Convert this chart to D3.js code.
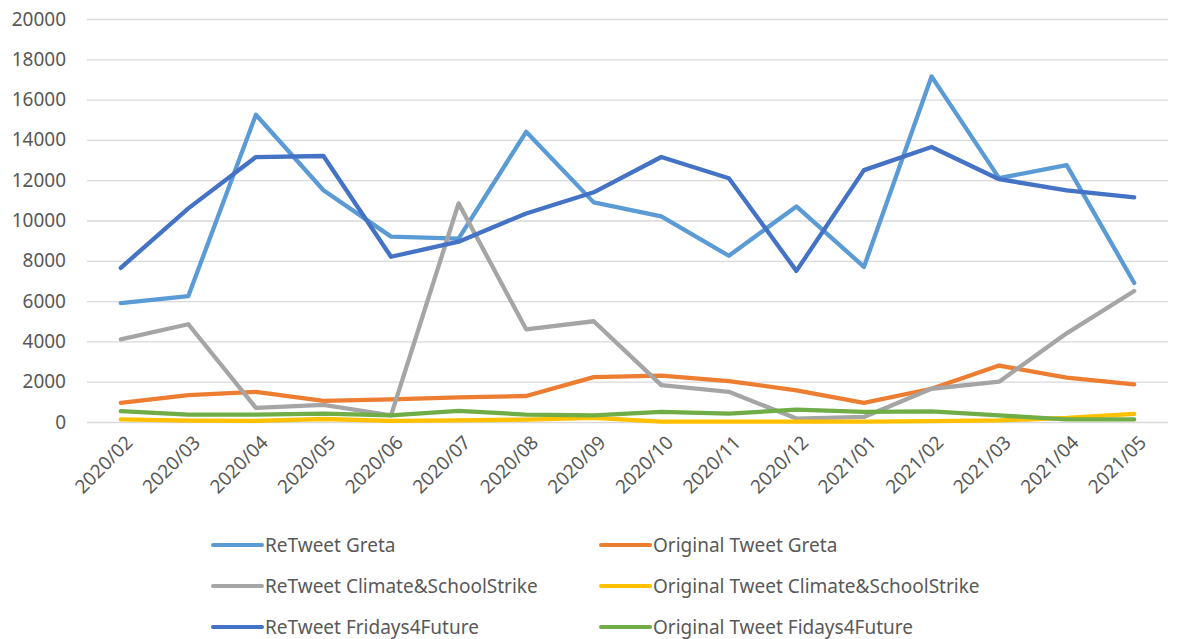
<!DOCTYPE html>
<html lang="en">
  <head>
    <meta charset="utf-8" />
    <title>Tweets per month</title>
    <script src="https://d3js.org/d3.v7.min.js"></script>
    <style>
      body { margin: 0; background: #fff; }
      text { font-family: "Noto Sans", "Open Sans", sans-serif; fill: #595959; }
    </style>
  </head>
  <body>
    <div id="chart"></div>
    <script>
      // Months (x categories)
      const months = [
        "2020/02", "2020/03", "2020/04", "2020/05", "2020/06", "2020/07", "2020/08", "2020/09",
        "2020/10", "2020/11", "2020/12", "2021/01", "2021/02", "2021/03", "2021/04", "2021/05"
      ];

      // Series values
      const retweetGreta = [5900, 6250, 15250, 11500, 9200, 9100, 14400, 10900, 10200, 8250, 10700, 7700, 17150, 12100, 12750, 6900];
      const originalGreta = [950, 1330, 1500, 1050, 1120, 1220, 1290, 2230, 2300, 2030, 1570, 950, 1650, 2800, 2200, 1870];
      const retweetClimate = [4100, 4850, 700, 850, 330, 10850, 4600, 5000, 1830, 1500, 170, 250, 1650, 2000, 4400, 6500];
      const originalClimate = [130, 70, 60, 150, 60, 85, 120, 200, 20, 20, 20, 20, 40, 80, 200, 400];
      const retweetFridays = [7650, 10600, 13150, 13200, 8200, 8950, 10350, 11400, 13150, 12100, 7500, 12500, 13650, 12050, 11500, 11150];
      const originalFridays = [540, 370, 370, 420, 330, 550, 370, 330, 500, 420, 610, 500, 530, 330, 130, 130];

      const yTicks = [0, 2000, 4000, 6000, 8000, 10000, 12000, 14000, 16000, 18000, 20000];

      // draw order and legend order (legend is row-wise, 2 columns)
      const series = [
        { name: "ReTweet Greta", values: retweetGreta, color: "#5b9bd5" },
        { name: "Original Tweet Greta", values: originalGreta, color: "#ed7d31" },
        { name: "ReTweet Climate&SchoolStrike", values: retweetClimate, color: "#a5a5a5" },
        { name: "Original Tweet Climate&SchoolStrike", values: originalClimate, color: "#ffc000" },
        { name: "ReTweet Fridays4Future", values: retweetFridays, color: "#4472c4" },
        { name: "Original Tweet Fidays4Future", values: originalFridays, color: "#70ad47" }
      ];

      const W = 1186, H = 639;
      const plot = { left: 87, right: 1168, top: 19, bottom: 422 };

      const svg = d3.select("#chart").append("svg")
        .attr("width", W)
        .attr("height", H);

      const x = d3.scalePoint().domain(months)
        .range([plot.left, plot.right])
        .padding(0.5);
      const y = d3.scaleLinear().domain([0, 20000]).range([plot.bottom, plot.top]);

      // gridlines + y labels
      const yAxis = svg.append("g")
        .attr("transform", `translate(${plot.left},0)`)
        .call(d3.axisLeft(y).tickValues(yTicks).tickFormat(d3.format("d"))
          .tickSize(-(plot.right - plot.left)).tickPadding(21));
      yAxis.select(".domain").remove();
      yAxis.selectAll(".tick line").attr("stroke", "#d9d9d9").attr("stroke-width", 1.3);
      yAxis.selectAll(".tick text")
        .style("font-size", "19px")
        .attr("fill", "#595959");

      // x labels, rotated
      const xAxis = svg.append("g")
        .attr("transform", `translate(0,${plot.bottom})`)
        .call(d3.axisBottom(x).tickSize(0));
      xAxis.select(".domain").remove();
      xAxis.selectAll(".tick text")
        .style("font-size", "19px")
        .attr("fill", "#595959")
        .attr("text-anchor", "end")
        .attr("dy", "0.35em")
        .attr("transform", "translate(8,17) rotate(-45)")
        .attr("y", 0)
        .attr("x", 0);

      // lines
      const line = d3.line()
        .x((d, i) => x(months[i]))
        .y((d) => y(d));

      series.forEach((s) => {
        svg.append("path")
          .datum(s.values)
          .attr("d", line)
          .attr("fill", "none")
          .attr("stroke", s.color)
          .attr("stroke-width", 4.3)
          .attr("stroke-linejoin", "round")
          .attr("stroke-linecap", "round");
      });

      // legend
      const legend = svg.append("g");
      series.forEach((s, i) => {
        const col = i % 2, row = Math.floor(i / 2);
        const g = legend.append("g")
          .attr("transform", `translate(${213 + col * 388},${545 + row * 41})`);
        g.append("line")
          .attr("x1", 0).attr("x2", 49)
          .attr("stroke", s.color)
          .attr("stroke-width", 4)
          .attr("stroke-linecap", "round");
        g.append("text")
          .attr("x", 52)
          .attr("dy", "0.35em")
          .style("font-size", "19px")
          .text(s.name);
      });
    </script>
  </body>
</html>
